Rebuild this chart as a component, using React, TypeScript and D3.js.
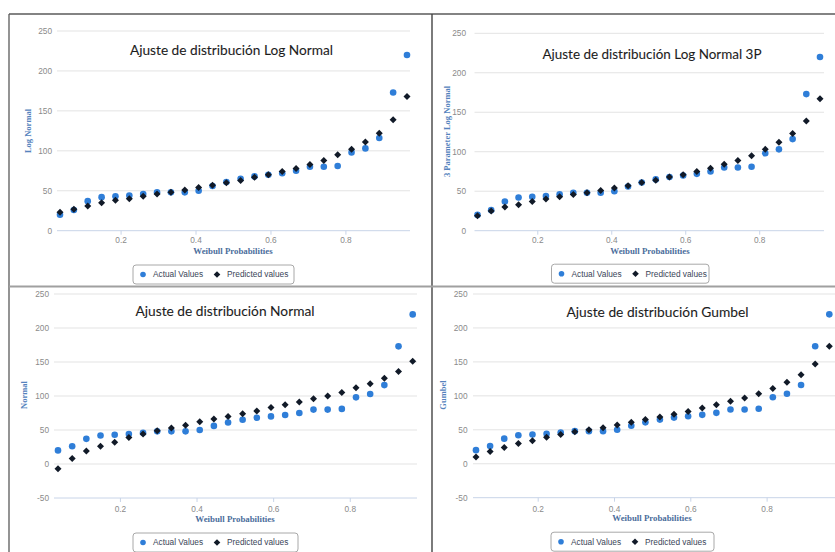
import React from "react";
import * as d3 from "d3";

// ---------- DATA ----------
const weibullProb = [0.037, 0.074, 0.111, 0.148, 0.185, 0.222, 0.259, 0.296, 0.333, 0.370, 0.407, 0.444, 0.481, 0.519, 0.556, 0.593, 0.630, 0.667, 0.704, 0.741, 0.778, 0.815, 0.852, 0.889, 0.926, 0.963];
const actualValues = [20, 26, 37, 42, 43, 44, 46, 48, 48, 48, 50, 56, 61, 65, 68, 70, 72, 75, 80, 80, 81, 98, 103, 116, 173, 220];
const predLogNormal = [23, 27, 31, 35, 38, 40, 43, 46, 48, 51, 54, 57, 60, 63, 67, 70, 74, 78, 83, 88, 95, 102, 111, 122, 139, 168];
const predLogNormal3P = [19, 25, 30, 33, 37, 40, 43, 46, 48, 51, 54, 57, 61, 64, 68, 71, 75, 79, 84, 89, 95, 103, 112, 123, 139, 167];
const predNormal = [-7, 8, 19, 26, 32, 39, 44, 49, 53, 57, 62, 66, 70, 74, 78, 83, 87, 91, 96, 100, 105, 112, 118, 126, 136, 151];
const predGumbel = [10, 18, 24, 30, 34, 39, 43, 47, 50, 53, 57, 61, 65, 69, 73, 77, 82, 87, 92, 97, 103, 111, 120, 131, 147, 173];

const xTicks = [0.2, 0.4, 0.6, 0.8];
const yTicksTop = [0, 50, 100, 150, 200, 250];
const yTicksBottom = [-50, 0, 50, 100, 150, 200, 250];

const titles = [
  "Ajuste de distribución Log Normal",
  "Ajuste de distribución Log Normal 3P",
  "Ajuste de distribución Normal",
  "Ajuste de distribución Gumbel",
];
const yTitles = ["Log Normal", "3 Parameter Log Normal", "Normal", "Gumbel"];
const xTitle = "Weibull Probabilities";
const legendLabels = ["Actual Values", "Predicted values"];
const predictedSeries = [predLogNormal, predLogNormal3P, predNormal, predGumbel];

// ---------- LAYOUT ----------
const panels = [
  { xr: [60, 407], grid: [57, 410], yDomain: [0, 250], yr: [230.7, 31], ticks: yTicksTop, yLabX: 52, yTitleX: 28, yTitleY: 131, xLabY: 240, xTitleY: 251, xTitleX: 233, title: [231.5, 50, 203], legend: [133, 161, 274.5] },
  { xr: [477.5, 820], grid: [474.5, 824], yDomain: [0, 250], yr: [230.7, 33.3], ticks: yTicksTop, yLabX: 466, yTitleX: 447, yTitleY: 131.5, xLabY: 240, xTitleY: 251, xTitleX: 650, title: [652, 54, 219], legend: [551.5, 157.5, 273.7] },
  { xr: [58, 412.7], grid: [54, 417], yDomain: [-50, 250], yr: [498, 294], ticks: yTicksBottom, yLabX: 49, yTitleX: 24, yTitleY: 395, xLabY: 509, xTitleY: 519, xTitleX: 235, title: [225, 310.7, 179], legend: [133, 165, 542.5] },
  { xr: [476, 829.3], grid: [473, 835], yDomain: [-50, 250], yr: [497.7, 294], ticks: yTicksBottom, yLabX: 467.5, yTitleX: 443, yTitleY: 395, xLabY: 509, xTitleY: 518, xTitleX: 652, title: [657.5, 312, 182], legend: [551, 163, 541.7] },
];

const BLUE = "#2f7ed8";
const DARK = "#111a28";
const diamond = (cx: number, cy: number, r: number) =>
  `M${cx},${cy - r}L${cx + r},${cy}L${cx},${cy + r}L${cx - r},${cy}Z`;

function Panel({ idx }: { idx: number }) {
  const p = panels[idx];
  const x = d3.scaleLinear().domain([weibullProb[0], weibullProb[weibullProb.length - 1]]).range(p.xr as [number, number]);
  const y = d3.scaleLinear().domain(p.yDomain as [number, number]).range(p.yr as [number, number]);
  const pred = predictedSeries[idx];
  const axisY = y(p.yDomain[0]);
  const [lx, lw, ly] = p.legend;
  return (
    <g>
      {p.ticks.map((t) => (
        <g key={t}>
          {t !== p.yDomain[0] && (
            <line x1={p.grid[0]} x2={p.grid[1]} y1={y(t)} y2={y(t)} stroke="#e3e3e3" strokeWidth={1} />
          )}
          <text x={p.yLabX} y={y(t)} dy="0.35em" textAnchor="end" fontSize={8.3} fill="#8a8a8a" fontFamily="Liberation Sans, Arial, sans-serif">
            {t}
          </text>
        </g>
      ))}
      <line x1={p.grid[0]} x2={p.grid[1]} y1={axisY} y2={axisY} stroke="#c8d4e8" strokeWidth={1} />
      {xTicks.map((t) => (
        <g key={t}>
          <line x1={x(t)} x2={x(t)} y1={axisY} y2={axisY + 4} stroke="#c8d4e8" strokeWidth={1} />
          <text x={x(t)} y={p.xLabY} dy="0.35em" textAnchor="middle" fontSize={8.3} fill="#8a8a8a" fontFamily="Liberation Sans, Arial, sans-serif">
            {t}
          </text>
        </g>
      ))}
      <text x={p.xTitleX} y={p.xTitleY} dy="0.35em" textAnchor="middle" fontSize={8.8} fontWeight="bold" fill="#4b6d9c" fontFamily="Liberation Serif, serif">
        {xTitle}
      </text>
      <text transform={`translate(${p.yTitleX},${p.yTitleY}) rotate(-90)`} dy="0.35em" textAnchor="middle" fontSize={8.5} fontWeight="bold" fill="#5583bd" fontFamily="Liberation Serif, serif">
        {yTitles[idx]}
      </text>
      {actualValues.map((v, i) => (
        <circle key={"a" + i} cx={x(weibullProb[i])} cy={y(v)} r={3.3} fill={BLUE} />
      ))}
      {pred.map((v, i) => (
        <path key={"p" + i} d={diamond(x(weibullProb[i]), y(v), 3.5)} fill={DARK} />
      ))}
      <text x={p.title[0]} y={p.title[1]} dy="0.35em" textAnchor="middle" fontSize={14} fill="#1c1c1c" stroke="#2a2a2a" strokeWidth={0.1} fontFamily="Lato, sans-serif" textLength={p.title[2]} lengthAdjust="spacingAndGlyphs">
        {titles[idx]}
      </text>
      <rect x={lx} y={ly - 9.5} width={lw} height={19} rx={3} fill="#fff" stroke="#a8a8a8" strokeWidth={1} />
      <circle cx={lx + 10} cy={ly} r={2.8} fill={BLUE} />
      <text x={lx + 20} y={ly} dy="0.35em" fontSize={8.3} fill="#3a4558" fontFamily="Liberation Sans, Arial, sans-serif">
        {legendLabels[0]}
      </text>
      <path d={diamond(lx + 84, ly, 3.3)} fill={DARK} />
      <text x={lx + 94} y={ly} dy="0.35em" fontSize={8.3} fill="#3a4558" fontFamily="Liberation Sans, Arial, sans-serif">
        {legendLabels[1]}
      </text>
    </g>
  );
}

export default function App() {
  return (
    <svg width={835} height={552} style={{ position: "absolute", left: 0, top: 0, background: "#fff" }}>
      <rect x={0} y={0} width={835} height={552} fill="#fff" />
      {panels.map((_, i) => (
        <Panel key={i} idx={i} />
      ))}
      <line x1={9} x2={9} y1={14} y2={552} stroke="#5a5a5a" strokeWidth={1.3} />
      <line x1={9} x2={835} y1={14} y2={14} stroke="#5a5a5a" strokeWidth={1.3} />
      <line x1={432} x2={432} y1={14} y2={552} stroke="#444" strokeWidth={1.4} />
      <line x1={9} x2={835} y1={286.5} y2={286.5} stroke="#a0a0a0" strokeWidth={2} />
    </svg>
  );
}
